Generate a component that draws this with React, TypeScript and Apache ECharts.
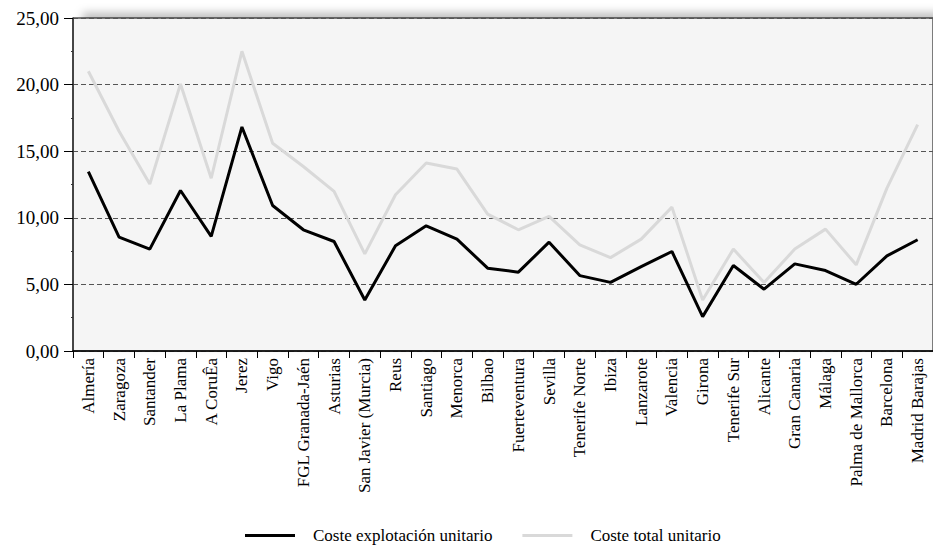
import React, { useEffect, useRef } from "react";
import * as echarts from "echarts";

const categories = [
  "Almería", "Zaragoza", "Santander", "La Plama", "A CoruÊa", "Jerez", "Vigo",
  "FGL Granada-Jaén", "Asturias", "San Javier (Murcia)", "Reus", "Santiago",
  "Menorca", "Bilbao", "Fuerteventura", "Sevilla", "Tenerife Norte", "Ibiza",
  "Lanzarote", "Valencia", "Girona", "Tenerife Sur", "Alicante", "Gran Canaria",
  "Málaga", "Palma de Mallorca", "Barcelona", "Madrid Barajas",
];

const costeExplotacion = [
  13.47, 8.55, 7.65, 12.05, 8.6, 16.82, 10.92, 9.1, 8.22, 3.83, 7.9, 9.4, 8.4,
  6.22, 5.92, 8.17, 5.66, 5.15, 6.34, 7.47, 2.58, 6.42, 4.64, 6.54, 6.04, 5.01,
  7.14, 8.35,
];

const costeTotal = [
  21.0, 16.5, 12.53, 20.05, 12.97, 22.5, 15.6, 13.85, 11.98, 7.29, 11.73, 14.11,
  13.66, 10.28, 9.1, 10.1, 7.97, 7.01, 8.4, 10.8, 3.83, 7.65, 5.14, 7.65, 9.15,
  6.47, 12.23, 16.99,
];

const yTicks = { min: 0, max: 25, interval: 5 };

const FONT = "Liberation Serif";

export default function App() {
  const ref = useRef<HTMLDivElement>(null);
  useEffect(() => {
    document.body.style.margin = "0";
    if (!ref.current) return;
    const chart = echarts.init(ref.current, null, { renderer: "svg" });
    chart.setOption({
      animation: false,
      backgroundColor: "#ffffff",
      textStyle: { fontFamily: FONT },
      grid: {
        left: 73,
        top: 18,
        right: -8,
        bottom: 198,
        show: true,
        backgroundColor: "#f5f5f5",
        borderColor: "#000000",
        borderWidth: 1,
        shadowColor: "rgba(0,0,0,0.25)",
        shadowBlur: 8,
        shadowOffsetX: 10,
        shadowOffsetY: -5,
      },
      legend: {
        bottom: 0,
        left: 240,
        itemWidth: 50,
        itemHeight: 3,
        itemGap: 30,
        icon: "rect",
        textStyle: {
          fontFamily: FONT,
          fontSize: 17,
          color: "#000",
          padding: [0, 0, 0, 13],
        },
        data: [
          { name: "Coste explotación unitario", itemStyle: { color: "#000" } },
          { name: "Coste total unitario", itemStyle: { color: "#d9d9d9" } },
        ],
      },
      xAxis: {
        type: "category",
        data: categories,
        boundaryGap: true,
        axisLine: { lineStyle: { color: "#000", width: 1.5 } },
        axisTick: { show: true, length: 7, lineStyle: { color: "#000" } },
        axisLabel: {
          rotate: 90,
          interval: 0,
          margin: 7,
          fontFamily: FONT,
          fontSize: 17,
          color: "#000",
        },
        splitLine: { show: false },
      },
      yAxis: {
        type: "value",
        min: yTicks.min,
        max: yTicks.max,
        interval: yTicks.interval,
        axisLine: { show: true, lineStyle: { color: "#333", width: 1.5 } },
        axisTick: { show: true, length: 9, lineStyle: { color: "#000" } },
        minorTick: { show: true, splitNumber: 2, length: 2, lineStyle: { color: "#333" } },
        axisLabel: {
          fontFamily: FONT,
          fontSize: 19,
          color: "#000",
          margin: 14,
          formatter: (v: number) => v.toFixed(2).replace(".", ","),
        },
        splitLine: {
          show: true,
          lineStyle: { color: "#555", type: [5, 3], width: 1 },
        },
      },
      series: [
        {
          name: "Coste explotación unitario",
          type: "line",
          data: costeExplotacion,
          symbol: "none",
          z: 3,
          lineStyle: { color: "#000", width: 3 },
          itemStyle: { color: "#000" },
        },
        {
          name: "Coste total unitario",
          type: "line",
          data: costeTotal,
          symbol: "none",
          z: 2,
          lineStyle: { color: "#d9d9d9", width: 3 },
          itemStyle: { color: "#d9d9d9" },
        },
      ],
    });
    return () => chart.dispose();
  }, []);
  return <div ref={ref} style={{ width: 933, height: 549 }} />;
}
